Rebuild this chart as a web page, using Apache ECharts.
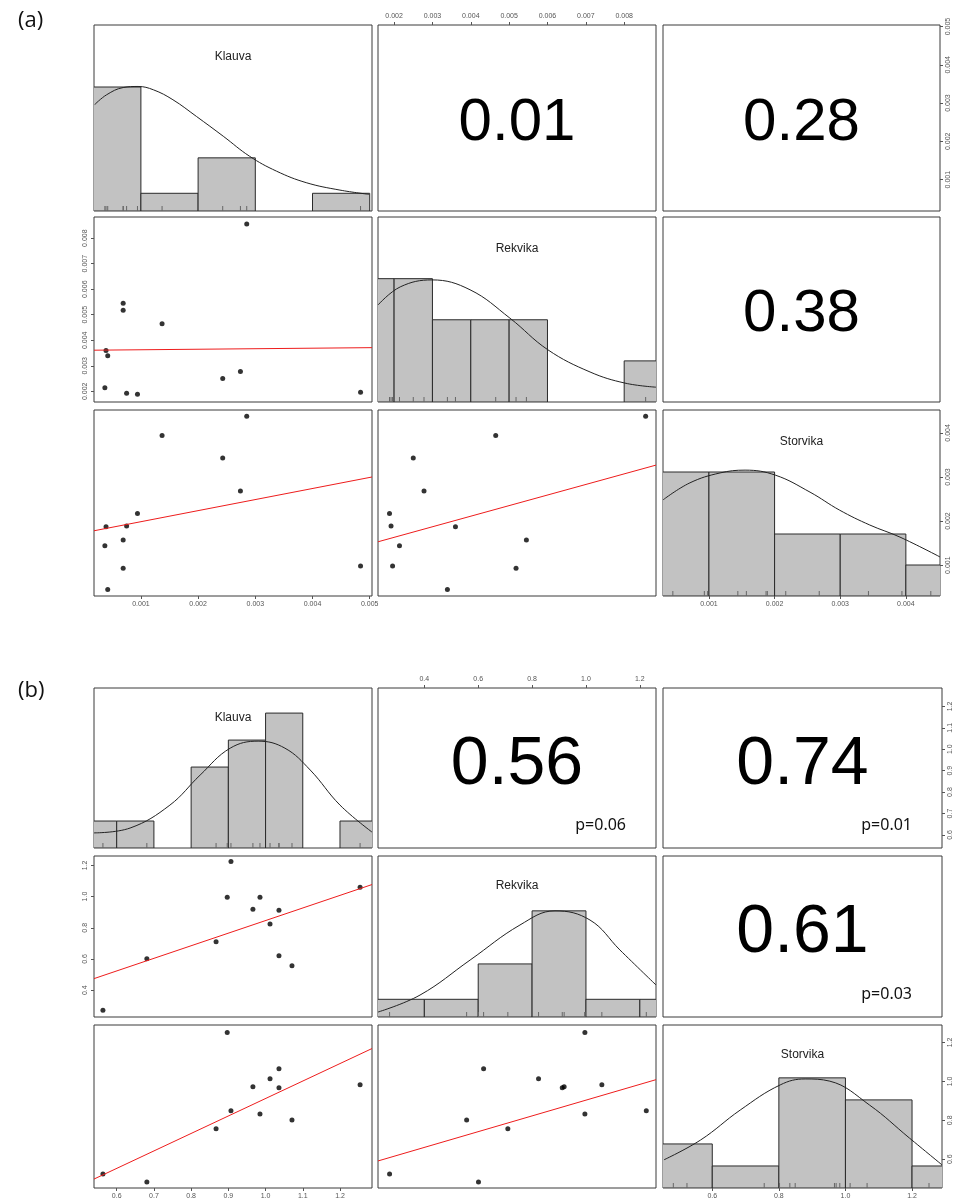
<!DOCTYPE html>
<html>
<head>
<meta charset="utf-8">
<script src="https://cdn.jsdelivr.net/npm/echarts@6/dist/echarts.min.js"></script>
<style>
  html, body { margin: 0; padding: 0; background: #fff; }
  #chart { width: 955px; height: 1201px; }
</style>
</head>
<body>
<div id="chart"></div>
<script>
// variable names (same in both blocks)
const varNames = ['Klauva', 'Rekvika', 'Storvika'];

// ---- block (a) ----
const klauvaA = [0.00285, 0.00069, 0.00069, 0.00137, 0.00039, 0.00042, 0.00037, 0.00075, 0.00094, 0.00243, 0.00274, 0.00484];
const rekvikaA = [0.00856, 0.00545, 0.00518, 0.00465, 0.00360, 0.00339, 0.00214, 0.00192, 0.00188, 0.00250, 0.00278, 0.00196];
const storvikaA = [0.00438, 0.00157, 0.00093, 0.00394, 0.00187, 0.00045, 0.00144, 0.00189, 0.00217, 0.00343, 0.00268, 0.00098];
const rangeA = [[0.00018, 0.00504], [0.00158, 0.00883], [0.0003, 0.00452]];
const ticksA = [
  [0.001, 0.002, 0.003, 0.004, 0.005],
  [0.002, 0.003, 0.004, 0.005, 0.006, 0.007, 0.008],
  [0.001, 0.002, 0.003, 0.004]
];
const klauvaBreaksA = [0, 0.001, 0.002, 0.003, 0.004, 0.005];
const klauvaCountsA = [7, 1, 3, 0, 1];
const rekvikaBreaksA = [0.001, 0.002, 0.003, 0.004, 0.005, 0.006, 0.007, 0.008, 0.009];
const rekvikaCountsA = [3, 3, 2, 2, 2, 0, 0, 1];
const storvikaBreaksA = [0, 0.001, 0.002, 0.003, 0.004, 0.005];
const storvikaCountsA = [4, 4, 2, 2, 1];
const klauvaCurveA = [[0.00019, 6.0], [0.0004, 6.56], [0.00069, 6.97], [0.00095, 7.03], [0.00122, 6.84], [0.00156, 6.28],
  [0.00197, 5.34], [0.00244, 4.22], [0.0029, 3.09], [0.00337, 2.25], [0.00389, 1.6], [0.00448, 1.18], [0.00499, 0.94]];
const rekvikaCurveA = [[0.00158, 2.36], [0.00216, 2.8], [0.00299, 2.97], [0.00398, 2.73], [0.00502, 2.04],
  [0.00601, 1.27], [0.00711, 0.73], [0.00802, 0.46], [0.00883, 0.36]];
const storvikaCurveA = [[0.0003, 3.1], [0.00071, 3.65], [0.00117, 3.97], [0.00155, 4.06], [0.00201, 3.9],
  [0.00254, 3.35], [0.00299, 2.77], [0.00345, 2.29], [0.00391, 1.9], [0.00452, 1.26]];
const histMaxA = [10.5, 4.5, 6];
const fitKRA = [[0.00018, 0.00361], [0.00504, 0.00371]];
const fitKSA = [[0.00018, 0.00178], [0.00504, 0.00300]];
const fitRSA = [[0.00158, 0.00153], [0.00883, 0.00327]];
const corrA = ['0.01', '0.28', '0.38'];

// ---- block (b) ----
const klauvaB = [0.563, 0.681, 0.867, 0.897, 0.907, 0.966, 0.985, 1.012, 1.036, 1.036, 1.071, 1.254];
const rekvikaB = [0.271, 0.601, 0.710, 0.996, 1.224, 0.919, 0.996, 0.824, 0.620, 0.912, 0.557, 1.059];
const storvikaB = [0.524, 0.483, 0.756, 1.251, 0.849, 0.972, 0.833, 1.014, 1.065, 0.967, 0.802, 0.983];
const rangeB = [[0.539, 1.286], [0.228, 1.26], [0.452, 1.29]];
const ticksB = [
  [0.6, 0.7, 0.8, 0.9, 1.0, 1.1, 1.2],
  [0.4, 0.6, 0.8, 1.0, 1.2],
  [0.6, 0.8, 1.0, 1.2]
];
const klauvaBreaksB = [0.5, 0.6, 0.7, 0.8, 0.9, 1.0, 1.1, 1.2, 1.3];
const klauvaCountsB = [1, 1, 0, 3, 4, 5, 0, 1];
const rekvikaBreaksB = [0.2, 0.4, 0.6, 0.8, 1.0, 1.2, 1.4];
const rekvikaCountsB = [1, 1, 3, 6, 1, 1];
const storvikaBreaksB = [0.4, 0.6, 0.8, 1.0, 1.2, 1.4];
const storvikaCountsB = [2, 1, 5, 4, 1];
const klauvaCurveB = [[0.539, 0.56], [0.636, 0.74], [0.743, 1.59], [0.824, 2.7], [0.905, 3.7], [0.98, 3.96],
  [1.052, 3.7], [1.12, 2.89], [1.2, 1.59], [1.286, 0.59]];
const rekvikaCurveB = [[0.228, 0.28], [0.384, 1.24], [0.57, 3.22], [0.755, 5.2], [0.885, 6.0], [1.015, 5.48],
  [1.126, 3.79], [1.26, 1.81]];
const storvikaCurveB = [[0.455, 1.28], [0.565, 2.18], [0.684, 3.54], [0.804, 4.68], [0.879, 4.95], [0.953, 4.85],
  [1.072, 3.77], [1.192, 2.27], [1.29, 1.05]];
const histMaxB = [5.93, 9.1, 7.4];
const fitKRB = [[0.539, 0.474], [1.286, 1.077]];
const fitKSB = [[0.539, 0.498], [1.286, 1.169]];
const fitRSB = [[0.228, 0.591], [1.26, 1.009]];
const corrB = ['0.56', '0.74', '0.61'];
const pB = ['p=0.06', 'p=0.01', 'p=0.03'];

// layout
const colLeft = [94, 378, 663];

const blocks = [
  {
    label: '(a)', labelY: 21, vals: [klauvaA, rekvikaA, storvikaA], ranges: rangeA, ticks: ticksA, digits: 3,
    rowTop: [25, 217, 410], rowH: [186, 185, 186], colW: [278, 278, 277],
    hist: [
      { breaks: klauvaBreaksA, counts: klauvaCountsA, curve: klauvaCurveA },
      { breaks: rekvikaBreaksA, counts: rekvikaCountsA, curve: rekvikaCurveA },
      { breaks: storvikaBreaksA, counts: storvikaCountsA, curve: storvikaCurveA }
    ],
    histMax: histMaxA,
    fits: { '1-0': fitKRA, '2-0': fitKSA, '2-1': fitRSA },
    corr: corrA, p: null, corrSize: 60, corrShift: 5, nameShift: 32
  },
  {
    label: '(b)', labelY: 691, vals: [klauvaB, rekvikaB, storvikaB], ranges: rangeB, ticks: ticksB, digits: 1,
    rowTop: [688, 856, 1025], rowH: [160, 161, 163], colW: [278, 278, 279],
    hist: [
      { breaks: klauvaBreaksB, counts: klauvaCountsB, curve: klauvaCurveB },
      { breaks: rekvikaBreaksB, counts: rekvikaCountsB, curve: rekvikaCurveB },
      { breaks: storvikaBreaksB, counts: storvikaCountsB, curve: storvikaCurveB }
    ],
    histMax: histMaxB,
    fits: { '1-0': fitKRB, '2-0': fitKSB, '2-1': fitRSB },
    corr: corrB, p: pB, corrSize: 68, corrShift: -3, nameShift: 30
  }
];

const grid = [], xAxis = [], yAxis = [], series = [], graphic = [];

function axisDef(dim, g, range, ticks, digits, pos, labelled) {
  return {
    type: 'value', gridIndex: g, min: range[0], max: range[1], position: pos,
    splitLine: { show: false },
    axisLine: { show: false },
    axisTick: { show: labelled, length: 3, lineStyle: { color: '#555' }, customValues: ticks },
    axisLabel: {
      show: labelled, customValues: ticks, fontSize: 7, color: '#555', fontFamily: 'Liberation Sans',
      margin: 5, rotate: dim === 'y' ? 90 : 0,
      formatter: function (v) { return v.toFixed(digits); }
    }
  };
}

function renderBar(params, api) {
  const p0 = api.coord([api.value(0), api.value(2)]);
  const p1 = api.coord([api.value(1), 0]);
  return {
    type: 'rect',
    shape: { x: p0[0], y: p0[1], width: p1[0] - p0[0], height: p1[1] - p0[1] },
    style: { fill: '#c2c2c2', stroke: '#2a2a2a', lineWidth: 1 }
  };
}

function renderRug(params, api) {
  const p = api.coord([api.value(0), 0]);
  return {
    type: 'line',
    shape: { x1: p[0], y1: p[1], x2: p[0], y2: p[1] - 5 },
    style: { stroke: '#666', lineWidth: 1 }
  };
}

blocks.forEach(function (b) {
  graphic.push({
    type: 'text', x: 18, y: b.labelY,
    style: { text: b.label, fontSize: 22, fontFamily: 'Open Sans', fill: '#111', verticalAlign: 'middle' }
  });
  for (let i = 0; i < 3; i++) {
    for (let j = 0; j < 3; j++) {
      const g = grid.length;
      const left = colLeft[j], top = b.rowTop[i], w = b.colW[j], h = b.rowH[i];
      grid.push({ left: left, top: top, width: w, height: h, show: true, borderColor: '#3a3a3a', borderWidth: 1 });
      const showTop = i === 0 && j === 1;
      const showBottom = i === 2 && j !== 1;
      const showLeft = j === 0 && i === 1;
      const showRight = j === 2 && i !== 1;
      const xi = xAxis.length;
      xAxis.push(axisDef('x', g, b.ranges[j], b.ticks[j], b.digits, showTop ? 'top' : 'bottom', showTop || showBottom));
      const yi = yAxis.length;
      if (i === j) {
        yAxis.push({ type: 'value', gridIndex: g, min: 0, max: b.histMax[i], show: false });
        if (showRight) yAxis.push(axisDef('y', g, b.ranges[i], b.ticks[i], b.digits, 'right', true));
        const hd = b.hist[i];
        const bars = [];
        hd.counts.forEach(function (c, k) { if (c > 0) bars.push([hd.breaks[k], hd.breaks[k + 1], c]); });
        series.push({
          type: 'custom', xAxisIndex: xi, yAxisIndex: yi, clip: true, silent: true,
          encode: { x: [0, 1], y: 2 }, data: bars, renderItem: renderBar
        });
        series.push({
          type: 'custom', xAxisIndex: xi, yAxisIndex: yi, clip: true, silent: true,
          encode: { x: 0, y: 1 }, data: b.vals[i].map(function (v) { return [v, 0]; }), renderItem: renderRug
        });
        series.push({
          type: 'line', xAxisIndex: xi, yAxisIndex: yi, data: hd.curve, smooth: 0.4, showSymbol: false,
          clip: true, silent: true, lineStyle: { color: '#222', width: 1 }
        });
        graphic.push({
          type: 'text', x: left + w / 2, y: top + b.nameShift,
          style: { text: varNames[i], fontSize: 12, fontFamily: 'Liberation Sans', fill: '#222', align: 'center', verticalAlign: 'middle' }
        });
      } else {
        yAxis.push(axisDef('y', g, b.ranges[i], b.ticks[i], b.digits, showRight ? 'right' : 'left', showLeft || showRight));
        if (i > j) {
          series.push({
            type: 'scatter', xAxisIndex: xi, yAxisIndex: yi, symbolSize: 5, silent: true,
            itemStyle: { color: '#000' },
            data: b.vals[j].map(function (v, k) { return [v, b.vals[i][k]]; })
          });
          series.push({
            type: 'line', xAxisIndex: xi, yAxisIndex: yi, data: b.fits[i + '-' + j], showSymbol: false,
            silent: true, lineStyle: { color: '#ee1c1c', width: 1 }
          });
        } else {
          const idx = i + j - 1; // (0,1)->0, (0,2)->1, (1,2)->2
          graphic.push({
            type: 'text', x: left + w / 2, y: top + h / 2 + b.corrShift,
            style: { text: b.corr[idx], fontSize: b.corrSize, fontFamily: 'Liberation Sans', fill: '#000', align: 'center', verticalAlign: 'middle' }
          });
          if (b.p) {
            graphic.push({
              type: 'text', x: left + w - 30, y: top + h - 23,
              style: { text: b.p[idx], fontSize: 16, fontFamily: 'Noto Sans', fill: '#111', align: 'right', verticalAlign: 'middle' }
            });
          }
        }
      }
    }
  }
});

const myChart = echarts.init(document.getElementById('chart'), null, { renderer: 'canvas' });
myChart.setOption({
  animation: false,
  backgroundColor: '#fff',
  grid: grid,
  xAxis: xAxis,
  yAxis: yAxis,
  series: series,
  graphic: graphic
});
</script>
</body>
</html>
